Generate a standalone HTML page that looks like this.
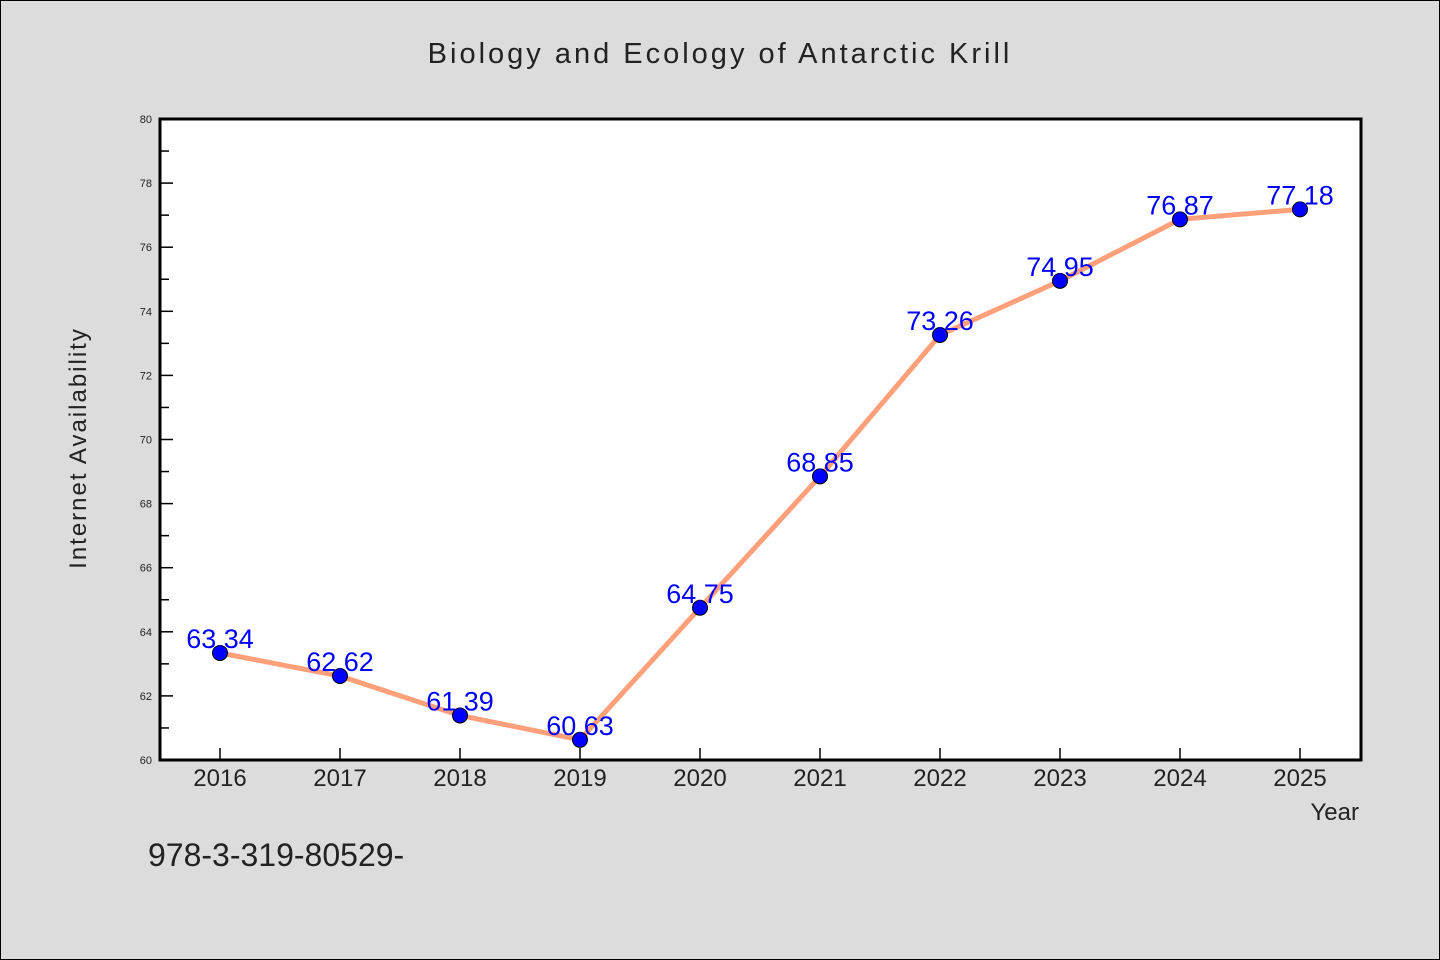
<!DOCTYPE html>
<html><head><meta charset="utf-8"><style>
body{margin:0;background:#dcdcdc;}
svg{display:block;font-family:"WenQuanYi Zen Hei","Liberation Sans",sans-serif;}
</style></head><body>
<svg id="chart" width="1440" height="960">
<rect x="0.5" y="0.5" width="1439" height="959" fill="#dcdcdc" stroke="#000"/>
<text x="720" y="63" text-anchor="middle" font-size="29" letter-spacing="3" fill="#222">Biology and Ecology of Antarctic Krill</text>
<rect x="160" y="119" width="1201" height="641" fill="#fff"/>
<g id="ticks"></g>
<g id="series"></g>
<rect x="160" y="119" width="1201" height="641" fill="none" stroke="#000" stroke-width="3"/>
<text x="86" y="448" text-anchor="middle" font-size="24" letter-spacing="2" fill="#222" transform="rotate(-90 86 448)">Internet Availability</text>
<text x="1359" y="820" text-anchor="end" font-size="24" fill="#222">Year</text>
<text x="148" y="866" font-size="32" fill="#222">978-3-319-80529-</text>
</svg>
<script>
const years=["2016","2017","2018","2019","2020","2021","2022","2023","2024","2025"];
const values=[63.34,62.62,61.39,60.63,64.75,68.85,73.26,74.95,76.87,77.18];
const yTicks=[60,62,64,66,68,70,72,74,76,78,80];
const NS="http://www.w3.org/2000/svg";
const x=i=>220+i*120;
const y=v=>760-(v-60)/20*641;
function mk(t,a,p){const e=document.createElementNS(NS,t);for(const k in a)e.setAttribute(k,a[k]);p.appendChild(e);return e;}
const tg=document.getElementById('ticks');
yTicks.forEach(v=>{
  const l=mk('line',{x1:160,x2:173,y1:y(v),y2:y(v),stroke:'#000','stroke-width':1.5},tg);
  
  
  const t=mk('text',{x:152,y:y(v)+4,'text-anchor':'end','font-size':11,fill:'#222'},tg);
  t.textContent=v;
  
  
  if(v<80){const m=mk('line',{x1:160,x2:169,y1:y(v+1),y2:y(v+1),stroke:'#000','stroke-width':1.5},tg);
  
  }
});
years.forEach((yr,i)=>{
  const l=mk('line',{x1:x(i),x2:x(i),y1:760,y2:748,stroke:'#000','stroke-width':1.5},tg);
  
  
  const t=mk('text',{x:x(i),y:786,'text-anchor':'middle','font-size':24,fill:'#222'},tg);
  t.textContent=yr;
  
  
});
const sg=document.getElementById('series');
const pl=mk('polyline',{points:values.map((v,i)=>x(i)+','+y(v)).join(' '),fill:'none',stroke:'#ffa07a','stroke-width':5,'stroke-linejoin':'round'},sg);


values.forEach((v,i)=>{
  const c=mk('circle',{cx:x(i),cy:y(v),r:7.5,fill:'#0000ff',stroke:'#000','stroke-width':1},sg);
  
  
});
values.forEach((v,i)=>{
  const t=mk('text',{x:x(i),y:y(v)-5,'text-anchor':'middle','font-size':27,fill:'#0000ff'},sg);
  t.textContent=v.toFixed(2);
  
  
});
</script>
</body></html>
